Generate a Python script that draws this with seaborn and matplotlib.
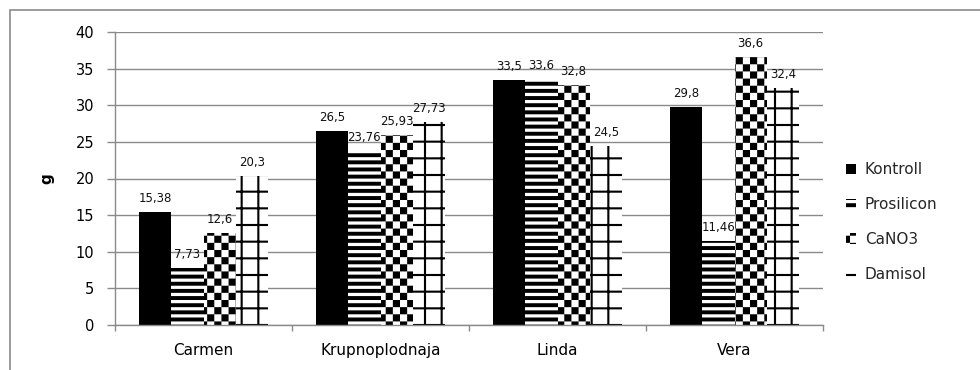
import numpy as np
import pandas as pd
import matplotlib
matplotlib.use("Agg")
import matplotlib.pyplot as plt
import matplotlib.hatch as mhatch
from matplotlib.path import Path
from matplotlib.patches import Rectangle
from matplotlib.ticker import FixedLocator, NullFormatter
import seaborn as sns

# ---- data -------------------------------------------------------------
cultivars = ["Carmen", "Krupnoplodnaja", "Linda", "Vera"]
treatments = ["Kontroll", "Prosilicon", "CaNO3", "Damisol"]
kontroll = [15.38, 26.5, 33.5, 29.8]
prosilicon = [7.73, 23.76, 33.6, 11.46]
cano3 = [12.6, 25.93, 32.8, 36.6]
damisol = [20.3, 27.73, 24.5, 32.4]
y_ticks = [0, 5, 10, 15, 20, 25, 30, 35, 40]


# ---- fill patterns built from solid rectangles --------------------------
def _fill_rects(vertices, codes, rects):
    for i, (x0, y0, x1, y1) in enumerate(rects):
        j = 5 * i
        vertices[j:j + 5] = [(x0, y0), (x1, y0), (x1, y1), (x0, y1), (x0, y0)]
        codes[j] = Path.MOVETO
        codes[j + 1:j + 4] = Path.LINETO
        codes[j + 4] = Path.CLOSEPOLY


class _RectPattern(mhatch.HatchPatternBase):
    key = ""

    def __init__(self, hatch, density):
        self.rects = self.make() if (hatch and self.key in hatch) else []
        self.num_vertices = 5 * len(self.rects)

    def set_vertices_and_codes(self, vertices, codes):
        _fill_rects(vertices, codes, self.rects)


class Stripes(_RectPattern):
    key = "-"

    def make(self):
        n, frac = 14, 0.55
        return [(-0.05, k / n, 1.05, k / n + frac / n) for k in range(n)]


class Checker(_RectPattern):
    key = "x"

    def make(self):
        n = 14
        s = 1.0 / n
        return [(i * s, j * s, (i + 1) * s, (j + 1) * s)
                for i in range(n) for j in range(n) if (i + j) % 2 == 0]


class Grid(_RectPattern):
    key = "+"

    def make(self):
        n, w = 6, 0.021
        rects = []
        for k in range(n):
            c = (k + 0.5) / n
            rects.append((c - w / 2, -0.05, c + w / 2, 1.05))
            rects.append((-0.05, c - w / 2, 1.05, c + w / 2))
        return rects


mhatch._hatch_types = [Stripes, Checker, Grid]

# ---- style ------------------------------------------------------------
sns.set_theme(style="white")
plt.rcParams["font.family"] = ["DejaVu Sans"]
plt.rcParams["hatch.linewidth"] = 0.01
plt.rcParams["hatch.color"] = "black"

GRAY = "#8a8a8a"

df = pd.DataFrame({
    "cultivar": np.repeat(cultivars, len(treatments)),
    "treatment": treatments * len(cultivars),
    "value": np.ravel(np.column_stack([kontroll, prosilicon, cano3, damisol])),
})

fig = plt.figure(figsize=(9.8, 3.7), dpi=100)
ax = fig.add_axes([115 / 980, 1 - 325 / 370, 708 / 980, 293 / 370])

sns.barplot(data=df, x="cultivar", y="value", hue="treatment",
            order=cultivars, hue_order=treatments,
            palette=["black", "white", "white", "white"], saturation=1,
            width=0.73, gap=0, linewidth=0, edgecolor="black",
            legend=False, ax=ax)

hatches = [None, "-", "x", "+"]
for cont, h in zip(ax.containers, hatches):
    for bar in cont.patches:
        bar.set_hatch(h)
        bar.set_edgecolor("black")
        bar.set_linewidth(0)
    labels = [f"{v:g}".replace(".", ",") for v in cont.datavalues]
    ax.bar_label(cont, labels=labels, padding=5, fontsize=8.5, color="#111111")

# ---- axes ---------------------------------------------------------------
ax.set_xlim(-0.5, len(cultivars) - 0.5)
ax.set_ylim(0, 40)
ax.set_yticks(y_ticks)
ax.yaxis.grid(True, color=GRAY, linewidth=1)
ax.set_axisbelow(True)
for side in ("top", "right"):
    ax.spines[side].set_visible(False)
for side in ("left", "bottom"):
    ax.spines[side].set_color(GRAY)
    ax.spines[side].set_linewidth(1)

ax.tick_params(axis="y", direction="out", length=6, width=1, color=GRAY,
               pad=9, labelsize=10.5, labelcolor="black", left=True)
ax.xaxis.set_minor_locator(FixedLocator(np.arange(-0.5, len(cultivars), 1.0)))
ax.xaxis.set_minor_formatter(NullFormatter())
ax.tick_params(axis="x", which="minor", direction="out", length=4, width=1,
               color=GRAY, bottom=True)
ax.tick_params(axis="x", which="major", length=0, pad=13, labelsize=11,
               labelcolor="black")

ax.set_xlabel("")
ax.set_ylabel("g", fontsize=11, fontweight="bold", color="black")
ax.yaxis.set_label_coords(-0.085, 0.5)

ax.legend(handles=ax.containers, labels=treatments,
          loc="center left", bbox_to_anchor=(838 / 980, 1 - 222 / 370),
          bbox_transform=fig.transFigure, frameon=False, fontsize=11,
          handlelength=0.65, handleheight=0.65, handletextpad=0.6,
          labelspacing=1.3, borderpad=0)

# chart frame
fig.add_artist(Rectangle((10 / 980, -0.2), 1.2, 1.2 - 10 / 370 + 0.0,
                         transform=fig.transFigure, fill=False,
                         edgecolor=GRAY, linewidth=1.2, clip_on=False))

fig.savefig("out.png", dpi=100)
